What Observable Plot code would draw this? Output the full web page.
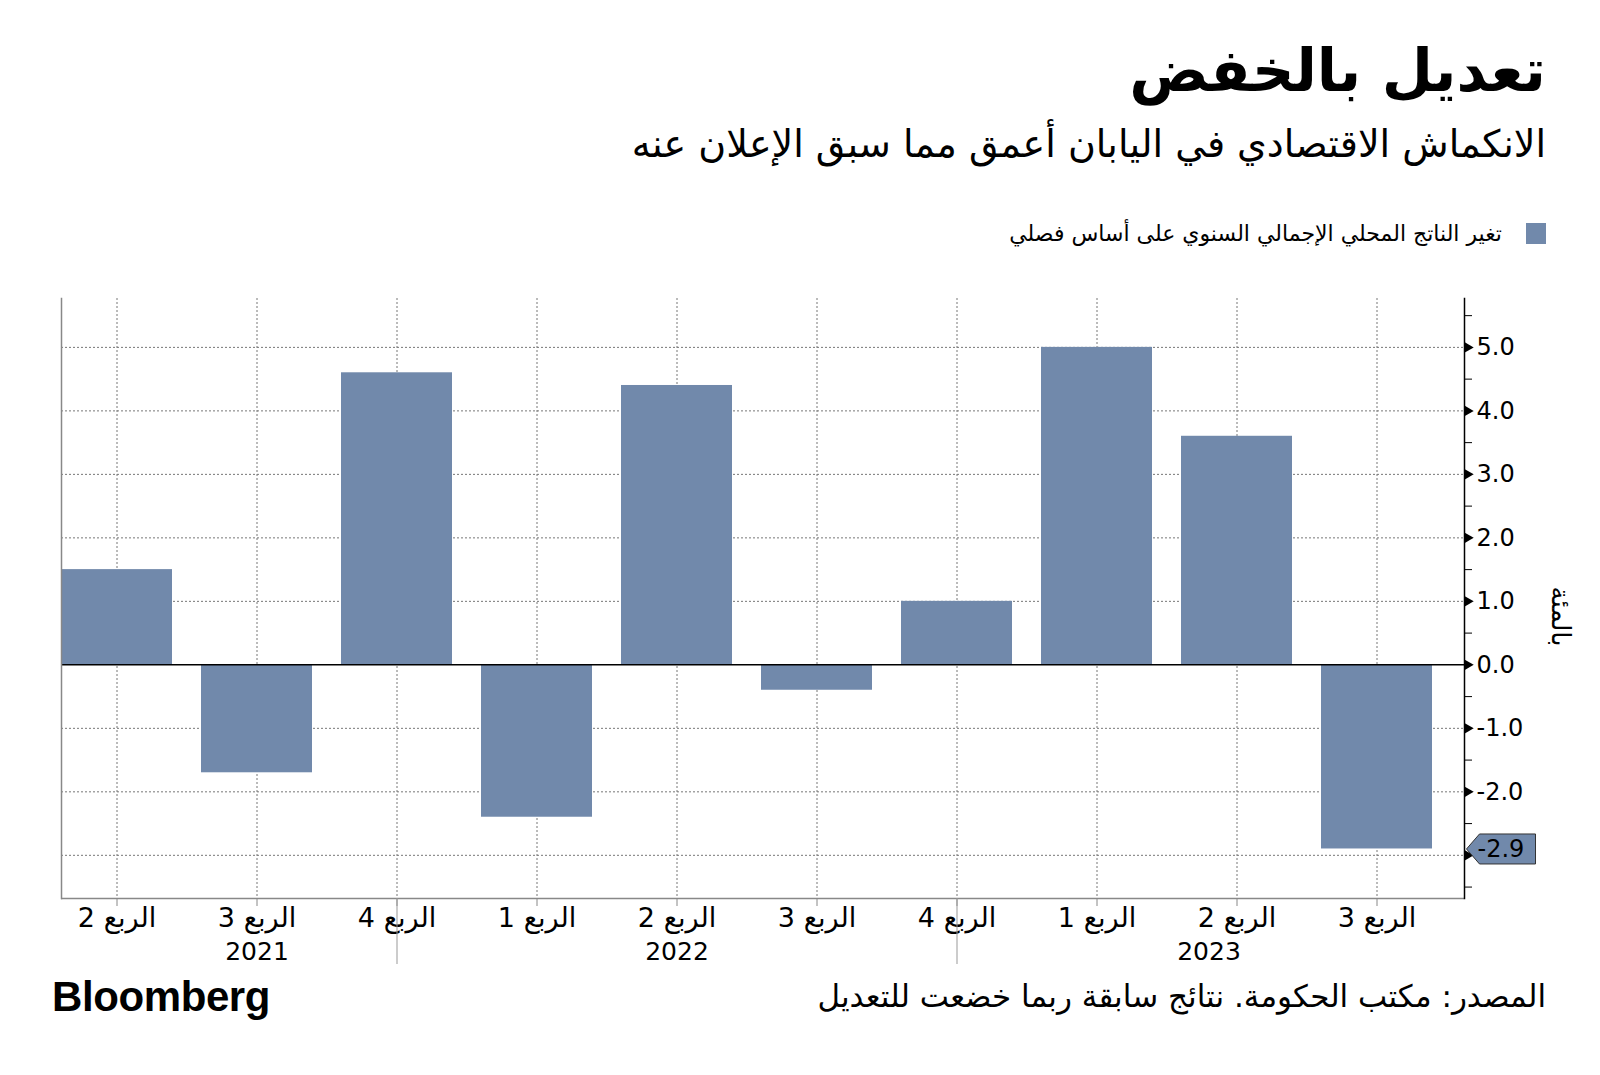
<!DOCTYPE html>
<html>
<head>
<meta charset="utf-8">
<script src="https://cdn.jsdelivr.net/npm/d3@7"></script>
<script src="https://cdn.jsdelivr.net/npm/@observablehq/plot@0.6"></script>
<style>
  html, body { margin: 0; padding: 0; background: #fff; }
  body { width: 1600px; height: 1075px; position: relative; overflow: hidden; font-family: "DejaVu Sans", sans-serif; }
  .ar { position: absolute; direction: rtl; text-align: right; white-space: nowrap; color: #000; }
  #title { right: 54px; top: 36px; font-size: 59px; font-weight: bold; }
  #subtitle { right: 54px; top: 122px; font-size: 38px; }
  #legend { right: 54px; top: 221px; font-size: 22px; display: flex; align-items: center; gap: 24px; }
  #legend .sw { width: 20px; height: 21px; background: #7189ab; display: inline-block; }
  #chart { position: absolute; left: 0; top: 270px; }
  #source { right: 54px; top: 978px; font-size: 31px; }
  #logo { position: absolute; left: 52px; top: 973px; font-family: "Liberation Sans", Arial, sans-serif; font-weight: bold; font-size: 42px; letter-spacing: -0.4px; }
</style>
</head>
<body>
<div id="title" class="ar">تعديل بالخفض</div>
<div id="subtitle" class="ar">الانكماش الاقتصادي في اليابان أعمق مما سبق الإعلان عنه</div>
<div id="legend" class="ar"><span class="sw"></span><span>تغير الناتج المحلي الإجمالي السنوي على أساس فصلي</span></div>
<div id="chart"></div>
<div id="source" class="ar">المصدر: مكتب الحكومة. نتائج سابقة ربما خضعت للتعديل</div>
<div id="logo">Bloomberg</div>
<script>
const periods = ["2021 Q2","2021 Q3","2021 Q4","2022 Q1","2022 Q2","2022 Q3","2022 Q4","2023 Q1","2023 Q2","2023 Q3"];
const quarterLabels = ["الربع 2","الربع 3","الربع 4","الربع 1","الربع 2","الربع 3","الربع 4","الربع 1","الربع 2","الربع 3"];
const gdpChange = [1.5, -1.7, 4.6, -2.4, 4.4, -0.4, 1.0, 5.0, 3.6, -2.9];
const yearLabels = ["2021", "2022", "2023"];
const yearLabelAt = ["2021 Q3", "2022 Q2", "2023 Q2"];
const yearBoundaryAt = ["2021 Q4", "2022 Q4"];
const yTickValues = [-2, -1, 0, 1, 2, 3, 4, 5];
const yArrowValues = [-3, -2, -1, 0, 1, 2, 3, 4, 5];
const yGridValues = [-3, -2, -1, 1, 2, 3, 4, 5];
const yMinorValues = [-3.5, -2.5, -1.5, -0.5, 0.5, 1.5, 2.5, 3.5, 4.5, 5.5];
const yDomain = [-3.68, 5.77];
const lastValue = [-2.9];
const yUnitLabel = ["بالمئة"];

const barColor = "#7189ab";
const data = periods.map((p, i) => ({period: p, label: quarterLabels[i], value: gdpChange[i]}));
const labelOf = Object.fromEntries(data.map(d => [d.period, d.label]));
const yearRows = yearLabels.map((y, i) => ({year: y, at: yearLabelAt[i]}));

const callout = {
  draw(context) {
    context.moveTo(0, 0);
    context.lineTo(13, -15);
    context.lineTo(69, -15);
    context.lineTo(69, 15);
    context.lineTo(13, 15);
    context.closePath();
  }
};

const chart = Plot.plot({
  width: 1600,
  height: 700,
  marginLeft: 61,
  marginRight: 136,
  marginTop: 28,
  marginBottom: 72,
  style: {fontFamily: "DejaVu Sans, sans-serif", fontSize: "22px", color: "#000", background: "transparent", overflow: "visible"},
  x: {domain: periods, paddingInner: 0.21, paddingOuter: 0.108, align: 0, label: null},
  y: {domain: yDomain, label: null},
  marks: [
    Plot.ruleY(yGridValues, {y: d => d, stroke: "#777", strokeDasharray: "2,2", strokeWidth: 1}),
    Plot.ruleX(periods, {x: d => d, stroke: "#777", strokeDasharray: "2,2", strokeWidth: 1}),
    Plot.barY(data, {x: "period", y: "value", fill: barColor}),
    Plot.ruleY([0], {stroke: "#000", strokeWidth: 1.5}),
    Plot.ruleY([yDomain[0]], {stroke: "#888", strokeWidth: 1.5}),
    Plot.frame({anchor: "left", stroke: "#888", strokeWidth: 1.5}),
    Plot.frame({anchor: "right", stroke: "#000", strokeWidth: 1.5}),
    Plot.axisX({tickFormat: d => labelOf[d], tickSize: 8, tickPadding: 1, fontSize: 27, stroke: "#888", fill: "#000"}),
    Plot.axisX(yearBoundaryAt, {tickSize: 66, tickFormat: () => "", stroke: "#999"}),
    Plot.text(yearRows.slice(0, 2), {x: "at", text: "year", frameAnchor: "bottom", dy: 61, fontSize: 25, fill: "#000"}),
    Plot.text(yearRows.slice(2), {x: "at", text: "year", frameAnchor: "bottom", dy: 61, dx: -28, fontSize: 25, fill: "#000"}),
    Plot.axisY(yMinorValues, {anchor: "right", tickSize: 7, tickFormat: () => "", stroke: "#000"}),
    Plot.axisY(yTickValues, {anchor: "right", tickSize: 0, tickPadding: 12, tickFormat: d => d.toFixed(1), fontSize: 24, fill: "#000"}),
    Plot.dot(yArrowValues, {y: d => d, frameAnchor: "right", symbol: "triangle", rotate: 90, r: 4, fill: "#000", dx: 3}),
    Plot.dot(lastValue, {y: d => d, frameAnchor: "right", symbol: callout, fill: barColor, stroke: "#333", strokeWidth: 1, dx: 2}),
    Plot.text(lastValue, {y: d => d, frameAnchor: "right", text: d => d.toFixed(1), textAnchor: "start", dx: 13, fontSize: 24, fill: "#000"}),
    Plot.text(yUnitLabel, {frameAnchor: "right", text: d => d, rotate: 90, dx: 96, dy: 48, fontSize: 26, fill: "#000"})
  ]
});
document.getElementById("chart").appendChild(chart);
</script>
</body>
</html>
